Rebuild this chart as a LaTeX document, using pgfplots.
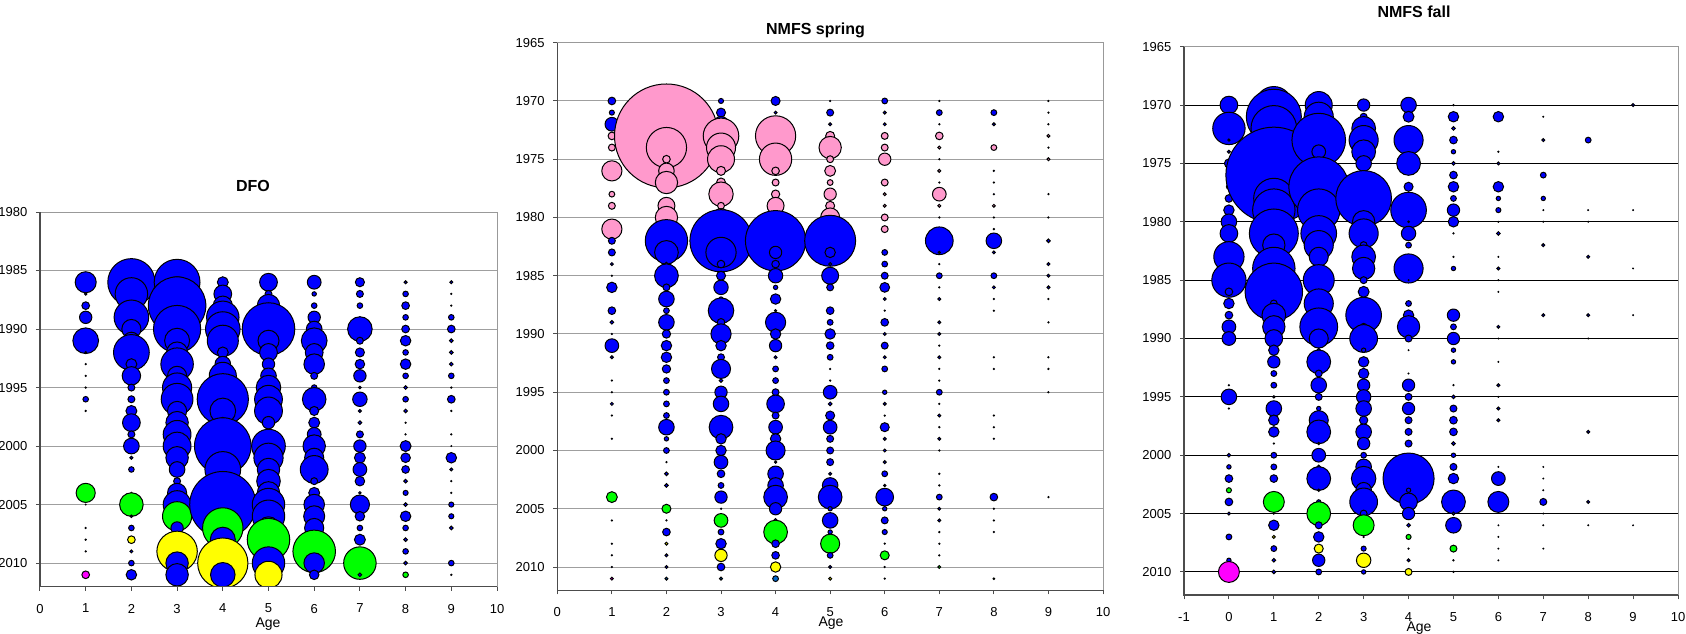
\documentclass[border=0pt]{standalone}
\usepackage{fontspec}
\setmainfont{Liberation Sans}
\usepackage{pgfplots}
\usepackage{pgfplotstable}
\pgfplotsset{compat=1.18}

\pgfplotsset{colormap={bubc}{rgb255=(0,0,255) rgb255=(255,153,204) rgb255=(0,255,0) rgb255=(255,255,0) rgb255=(255,0,255) rgb255=(0,102,204)}}

\pgfplotsset{
 panel/.style={
  scale only axis, anchor=north west,
  colormap name=bubc, point meta min=0, point meta max=5,
  clip marker paths=true,
  tick align=outside, major tick length=2pt, tick pos=left,
  ymajorgrids, grid style={line width=0.5pt, draw=gray!75},
  axis line style={draw=none},
  tick style={draw=black!70, line width=0.5pt},
  ticklabel style={font=\fontsize{6.5}{7.5}\selectfont, text=black},
  xticklabel style={yshift=-3.2pt},
  yticklabel style={xshift=-0.8pt},
  after end axis/.append code={
    \draw[line width=0.5pt, draw=gray!80] (rel axis cs:0,1) -- (rel axis cs:1,1) -- (rel axis cs:1,0);
    \draw[line width=0.8pt, draw=black!70] (rel axis cs:0,1) -- (rel axis cs:0,0) -- (rel axis cs:1,0);
  },
 },
 bub/.style={scatter, only marks, mark=*, line width=0.5pt, point meta=explicit,
  scatter/use mapped color={draw=black, fill=mapped color},
  visualization depends on={max(\thisrow{r}*#1-0.25,0.2) \as \bubsize},
  visualization depends on={\thisrow{o} \as \bubop},
  scatter/@pre marker code/.append style={/tikz/mark size=\bubsize, /tikz/draw opacity=\bubop},
 },
}

% c: 0 blue, 1 pink, 2 green, 3 yellow, 4 magenta, 5 steel blue; r in years; o = outline
\pgfplotstableread{
x y r c o
1 1986 0.94 0 1
1 1987 0.15 0 1
1 1988 0.37 0 1
1 1989 0.57 0 1
1 1991 1.14 0 1
1 1992 0.11 0 1
1 1993 0.09 0 1
1 1994 0.09 0 1
1 1995 0.09 0 1
1 1996 0.28 0 1
1 1997 0.09 0 1
1 2004 0.86 2 1
1 2005 0.07 0 1
1 2007 0.09 0 1
1 2008 0.09 0 1
1 2009 0.09 0 1
1 2011 0.37 4 1
2 1986 2.06 0 1
2 1987 1.43 0 1
2 1988 0.5 0 1
2 1989 1.52 0 1
2 1990 0.86 0 1
2 1991 0.77 0 1
2 1992 1.57 0 1
2 1993 0.51 0 1
2 1994 0.83 0 1
2 1995 0.34 0 1
2 1996 0.34 0 1
2 1997 0.51 0 1
2 1998 0.8 0 1
2 1999 0.34 0 1
2 2000 0.71 0 1
2 2001 0.17 0 1
2 2002 0.28 0 1
2 2004 0.09 0 1
2 2005 1.05 2 1
2 2006 0.15 0 1
2 2007 0.28 0 1
2 2008 0.37 3 1
2 2009 0.17 0 1
2 2010 0.28 0 1
2 2011 0.49 0 1
3 1986 2.0 0 1
3 1987 1.5 0 1
3 1988 2.5 0 1
3 1989 1.0 0 1
3 1990 2.06 0 1
3 1991 1.11 0 1
3 1992 0.94 0 1
3 1993 1.43 0 1
3 1994 0.86 0 1
3 1995 1.29 0 1
3 1996 1.4 0 1
3 1997 0.86 0 1
3 1998 1.0 0 1
3 1999 1.23 0 1
3 2000 1.23 0 1
3 2001 1.0 0 1
3 2002 0.71 0 1
3 2003 0.34 0 1
3 2004 0.86 0 1
3 2005 1.23 0 1
3 2006 1.29 2 1
3 2007 0.57 0 1
3 2008 0.6 0 1
3 2009 1.77 3 1
3 2010 1.0 0 1
3 2011 1.0 0 1
4 1986 0.51 0 1
4 1987 0.8 0 1
4 1988 0.86 0 1
4 1989 1.43 0 1
4 1990 1.52 0 1
4 1991 1.37 0 1
4 1992 0.51 0 1
4 1993 0.71 0 1
4 1994 1.2 0 1
4 1995 1.0 0 1
4 1996 2.23 0 1
4 1997 1.14 0 1
4 1998 0.5 0 1
4 1999 1.0 0 1
4 2000 2.46 0 1
4 2001 0.5 0 1
4 2002 1.57 0 1
4 2003 0.8 0 1
4 2004 1.2 0 1
4 2005 2.87 0 1
4 2006 0.7 0 1
4 2007 1.77 2 1
4 2008 1.11 0 1
4 2009 0.9 0 1
4 2010 2.19 3 1
4 2011 1.09 0 1
5 1986 0.8 0 1
5 1987 0.34 0 1
5 1988 1.0 0 1
5 1989 0.9 0 1
5 1990 2.29 0 1
5 1991 0.94 0 1
5 1992 0.8 0 1
5 1993 0.57 0 1
5 1994 0.71 0 1
5 1995 1.09 0 1
5 1996 1.23 0 1
5 1997 1.23 0 1
5 1998 0.57 0 1
5 1999 0.45 0 1
5 2000 1.48 0 1
5 2001 1.29 0 1
5 2002 1.0 0 1
5 2003 1.05 0 1
5 2004 1.0 0 1
5 2005 1.43 0 1
5 2006 1.43 0 1
5 2007 1.0 0 1
5 2008 1.86 2 1
5 2009 0.4 0 1
5 2010 1.43 0 1
5 2011 1.2 3 1
6 1986 0.63 0 1
6 1987 0.23 0 1
6 1988 0.28 0 1
6 1989 0.57 0 1
6 1990 0.71 0 1
6 1991 1.14 0 1
6 1992 0.8 0 1
6 1993 0.92 0 1
6 1994 0.34 0 1
6 1995 0.28 0 1
6 1996 1.05 0 1
6 1997 0.43 0 1
6 1998 0.51 0 1
6 1999 0.63 0 1
6 2000 1.0 0 1
6 2001 0.86 0 1
6 2002 1.23 0 1
6 2003 0.34 0 1
6 2004 0.51 0 1
6 2005 0.92 0 1
6 2006 0.94 0 1
6 2007 0.86 0 1
6 2008 0.8 0 1
6 2009 1.86 2 1
6 2010 0.92 0 1
6 2011 0.45 0 1
7 1986 0.43 0 1
7 1987 0.34 0 1
7 1988 0.28 0 1
7 1989 0.09 0 1
7 1990 1.09 0 1
7 1991 0.34 0 1
7 1992 0.43 0 1
7 1993 0.45 0 1
7 1994 0.57 0 1
7 1995 0.15 0 1
7 1996 0.66 0 1
7 1997 0.17 0 1
7 1998 0.2 0 1
7 1999 0.34 0 1
7 2000 0.57 0 1
7 2001 0.51 0 1
7 2002 0.63 0 1
7 2003 0.45 0 1
7 2004 0.15 0 1
7 2005 0.86 0 1
7 2006 0.45 0 1
7 2007 0.28 0 1
7 2008 0.51 0 1
7 2010 1.43 2 1
7 2011 0.2 0 1
8 1986 0.17 0 1
8 1987 0.28 0 1
8 1988 0.37 0 1
8 1989 0.28 0 1
8 1990 0.37 0 1
8 1991 0.49 0 1
8 1992 0.28 0 1
8 1993 0.49 0 1
8 1994 0.28 0 1
8 1995 0.2 0 1
8 1996 0.28 0 1
8 1997 0.2 0 1
8 1998 0.09 0 1
8 1999 0.09 0 1
8 2000 0.51 0 1
8 2001 0.45 0 1
8 2002 0.37 0 1
8 2003 0.2 0 1
8 2004 0.26 0 1
8 2005 0.2 0 1
8 2006 0.49 0 1
8 2007 0.28 0 1
8 2008 0.2 0 1
8 2009 0.28 0 1
8 2010 0.2 0 1
8 2011 0.28 2 1
9 1986 0.17 0 1
9 1987 0.09 0 1
9 1988 0.09 0 1
9 1989 0.28 0 1
9 1990 0.37 0 1
9 1991 0.2 0 1
9 1992 0.2 0 1
9 1993 0.2 0 1
9 1994 0.28 0 1
9 1995 0.09 0 1
9 1996 0.37 0 1
9 1997 0.09 0 1
9 1999 0.09 0 1
9 2000 0.07 0 1
9 2001 0.49 0 1
9 2002 0.17 0 1
9 2003 0.09 0 1
9 2004 0.09 0 1
9 2005 0.26 0 1
9 2006 0.26 0 1
9 2007 0.2 0 1
9 2010 0.28 0 1
9 2011 0.09 0 1
}\dfo

\pgfplotstableread{
x y r c o
1 1970 0.37 0 1
1 1971 0.26 0 1
1 1972 0.63 0 1
1 1973 0.37 1 1
1 1974 0.34 1 1
1 1976 0.91 1 1
1 1978 0.29 1 1
1 1979 0.34 1 1
1 1981 0.91 1 1
1 1982 0.34 0 1
1 1983 0.34 0 1
1 1984 0.17 0 1
1 1985 0.09 0 1
1 1986 0.49 0 1
1 1988 0.37 0 1
1 1989 0.2 0 1
1 1990 0.09 0 1
1 1991 0.63 0 1
1 1992 0.17 0 1
1 1994 0.09 0 1
1 1995 0.09 0 1
1 1996 0.17 0 1
1 1997 0.09 0 1
1 1999 0.09 0 1
1 2004 0.51 2 0
1 2006 0.09 0 1
1 2008 0.09 0 1
1 2009 0.09 0 1
1 2010 0.09 0 1
1 2011 0.17 4 1
2 1973 4.5 1 1
2 1974 1.77 1 1
2 1975 0.37 1 1
2 1976 0.71 1 1
2 1977 1.0 1 1
2 1979 0.77 1 1
2 1980 1.0 1 1
2 1982 1.86 0 1
2 1983 1.06 0 1
2 1984 0.2 0 1
2 1985 1.06 0 1
2 1986 0.34 0 1
2 1987 0.71 0 1
2 1988 0.29 0 1
2 1989 0.71 0 1
2 1990 0.4 0 1
2 1991 0.49 0 1
2 1992 0.49 0 1
2 1993 0.4 0 1
2 1994 0.29 0 1
2 1995 0.29 0 1
2 1996 0.29 0 1
2 1997 0.29 0 1
2 1998 0.71 0 1
2 1999 0.23 0 1
2 2000 0.29 0 1
2 2001 0.09 0 1
2 2002 0.2 0 1
2 2003 0.2 0 1
2 2005 0.43 2 0
2 2006 0.09 0 1
2 2007 0.37 0 1
2 2008 0.17 3 1
2 2009 0.17 0 1
2 2010 0.17 0 1
2 2011 0.17 5 1
3 1970 0.26 0 1
3 1971 0.43 0 1
3 1972 0.71 0 1
3 1973 1.57 1 1
3 1974 1.29 1 1
3 1975 1.2 1 1
3 1976 0.43 1 1
3 1977 0.43 1 1
3 1978 1.09 1 1
3 1979 0.34 1 1
3 1980 0.8 1 1
3 1982 2.71 0 1
3 1983 1.34 0 1
3 1984 0.37 0 1
3 1985 0.43 0 1
3 1986 0.66 0 1
3 1987 0.23 0 1
3 1988 1.14 0 1
3 1989 0.37 0 1
3 1990 0.91 0 1
3 1991 0.49 0 1
3 1992 0.34 0 1
3 1993 0.86 0 1
3 1994 0.2 0 1
3 1995 0.57 0 1
3 1996 0.71 0 1
3 1998 1.06 0 1
3 1999 0.49 0 1
3 2000 0.49 0 1
3 2001 0.63 0 1
3 2002 0.37 0 1
3 2003 0.29 0 1
3 2004 0.57 0 1
3 2005 0.09 0 1
3 2006 0.63 2 0
3 2007 0.29 0 1
3 2008 0.49 0 1
3 2009 0.57 3 1
3 2010 0.37 0 1
3 2011 0.17 5 1
4 1970 0.43 0 1
4 1971 0.17 0 1
4 1973 1.77 1 1
4 1975 1.43 1 1
4 1976 0.37 1 1
4 1977 0.34 1 1
4 1978 0.4 1 1
4 1979 0.77 1 1
4 1982 2.63 0 1
4 1983 0.57 0 1
4 1984 0.37 0 1
4 1985 0.66 0 1
4 1986 0.23 0 1
4 1987 0.49 0 1
4 1988 0.14 0 1
4 1989 0.91 0 1
4 1990 0.49 0 1
4 1991 0.57 0 1
4 1992 0.17 0 1
4 1993 0.29 0 1
4 1994 0.29 0 1
4 1995 0.34 0 1
4 1996 0.8 0 1
4 1997 0.34 0 1
4 1998 0.63 0 1
4 1999 0.49 0 1
4 2000 0.86 0 1
4 2001 0.14 0 1
4 2002 0.71 0 1
4 2003 0.71 0 1
4 2004 1.06 0 1
4 2005 0.57 0 1
4 2006 0.2 0 1
4 2007 1.06 2 0
4 2008 0.37 0 1
4 2009 0.37 0 1
4 2010 0.49 3 1
4 2011 0.29 5 1
5 1970 0.09 0 1
5 1971 0.34 0 1
5 1972 0.17 0 1
5 1973 0.43 1 1
5 1974 1.0 1 1
5 1975 0.34 1 1
5 1976 0.51 1 1
5 1977 0.29 1 1
5 1978 0.57 1 1
5 1979 0.43 1 1
5 1980 0.86 1 1
5 1982 2.23 0 1
5 1983 0.49 0 1
5 1984 0.17 0 1
5 1985 0.77 0 1
5 1986 0.34 0 1
5 1988 0.37 0 1
5 1989 0.29 0 1
5 1990 0.49 0 1
5 1991 0.37 0 1
5 1992 0.29 0 1
5 1993 0.09 0 1
5 1994 0.09 0 1
5 1995 0.63 0 1
5 1996 0.2 0 1
5 1997 0.43 0 1
5 1998 0.63 0 1
5 1999 0.34 0 1
5 2000 0.34 0 1
5 2001 0.34 0 1
5 2002 0.17 0 1
5 2003 0.71 0 1
5 2004 1.06 0 1
5 2005 0.23 0 1
5 2006 0.71 0 1
5 2007 0.23 0 1
5 2008 0.86 2 0
5 2009 0.29 0 1
5 2010 0.17 0 1
5 2011 0.17 3 1
6 1970 0.29 0 1
6 1971 0.17 0 1
6 1972 0.17 0 1
6 1973 0.34 1 1
6 1974 0.34 1 1
6 1975 0.57 1 1
6 1977 0.34 1 1
6 1978 0.17 1 1
6 1979 0.17 1 1
6 1980 0.34 1 1
6 1981 0.34 1 1
6 1983 0.29 0 1
6 1984 0.29 0 1
6 1985 0.34 0 1
6 1986 0.46 0 1
6 1987 0.17 0 1
6 1988 0.09 0 1
6 1989 0.37 0 1
6 1990 0.17 0 1
6 1991 0.34 0 1
6 1992 0.17 0 1
6 1993 0.29 0 1
6 1995 0.23 0 1
6 1996 0.17 0 1
6 1997 0.09 0 1
6 1998 0.43 0 1
6 1999 0.17 0 1
6 2000 0.17 0 1
6 2001 0.17 0 1
6 2002 0.29 0 1
6 2003 0.14 0 1
6 2004 0.8 0 1
6 2005 0.23 0 1
6 2006 0.34 0 1
6 2007 0.26 0 1
6 2008 0.09 0 1
6 2009 0.43 2 0
6 2010 0.09 0 1
6 2011 0.09 0 1
7 1970 0.09 0 1
7 1971 0.29 0 1
7 1972 0.09 0 1
7 1973 0.37 1 1
7 1974 0.17 1 1
7 1975 0.09 0 1
7 1976 0.17 1 1
7 1977 0.09 0 1
7 1978 0.63 1 1
7 1979 0.17 1 1
7 1980 0.09 0 1
7 1981 0.09 0 1
7 1982 1.23 0 1
7 1983 0.14 0 1
7 1984 0.09 0 1
7 1985 0.29 0 1
7 1986 0.09 0 1
7 1987 0.17 0 1
7 1989 0.17 0 1
7 1990 0.17 0 1
7 1991 0.09 0 1
7 1992 0.17 0 1
7 1993 0.09 0 1
7 1994 0.09 0 1
7 1995 0.29 0 1
7 1996 0.09 0 1
7 1997 0.17 0 1
7 1998 0.09 0 1
7 1999 0.17 0 1
7 2000 0.09 0 1
7 2002 0.09 0 1
7 2003 0.09 0 1
7 2004 0.29 0 1
7 2005 0.17 0 1
7 2006 0.17 0 1
7 2007 0.09 0 1
7 2008 0.09 0 1
7 2009 0.09 0 1
7 2010 0.17 2 0
8 1971 0.29 0 1
8 1972 0.17 0 1
8 1974 0.29 1 1
8 1976 0.09 0 1
8 1977 0.09 0 1
8 1978 0.09 0 1
8 1979 0.17 1 1
8 1980 0.09 0 1
8 1981 0.09 0 1
8 1982 0.71 0 1
8 1983 0.17 0 1
8 1985 0.29 0 1
8 1986 0.17 0 1
8 1987 0.09 0 1
8 1988 0.09 0 1
8 1992 0.09 0 1
8 1993 0.09 0 1
8 1997 0.09 0 1
8 1998 0.09 0 1
8 1999 0.09 0 1
8 2004 0.37 0 1
8 2005 0.09 0 1
8 2006 0.09 0 1
8 2007 0.09 0 1
8 2011 0.11 2 0
9 1970 0.09 0 1
9 1971 0.09 0 1
9 1972 0.09 0 1
9 1973 0.17 1 1
9 1974 0.09 0 1
9 1975 0.17 1 1
9 1978 0.09 0 1
9 1980 0.09 0 1
9 1982 0.2 0 1
9 1984 0.17 0 1
9 1985 0.17 0 1
9 1986 0.17 0 1
9 1987 0.09 0 1
9 1989 0.09 0 1
9 1992 0.09 0 1
9 1993 0.09 0 1
9 1995 0.09 0 1
9 2004 0.09 0 1
}\spring

\pgfplotstableread{
x y r c o
0 1970 0.8 0 1
0 1972 1.43 0 1
0 1973 0.14 0 1
0 1974 0.17 0 1
0 1975 0.43 0 1
0 1977 0.26 0 1
0 1978 0.37 0 1
0 1979 0.49 0 1
0 1980 0.71 0 1
0 1981 0.8 0 1
0 1983 1.34 0 1
0 1985 1.51 0 1
0 1986 0.37 0 1
0 1987 0.49 0 1
0 1988 0.37 0 1
0 1989 0.63 0 1
0 1990 0.63 0 1
0 1994 0.09 0 1
0 1995 0.71 0 1
0 1996 0.09 0 1
0 2000 0.2 0 1
0 2001 0.23 0 1
0 2002 0.37 0 1
0 2003 0.26 2 1
0 2004 0.37 0 1
0 2005 0.17 0 1
0 2007 0.29 0 1
0 2009 0.23 0 1
0 2010 0.94 4 0
1 1970 1.63 0 1
1 1971 2.4 0 1
1 1972 2.0 0 1
1 1973 1.0 0 1
1 1974 1.5 0 1
1 1975 2.0 0 1
1 1976 4.15 0 1
1 1977 0.6 0 1
1 1978 1.77 0 1
1 1979 1.86 0 1
1 1980 1.0 0 1
1 1981 2.14 0 1
1 1982 1.0 0 1
1 1983 0.8 0 1
1 1984 1.86 0 1
1 1985 1.4 0 1
1 1986 2.5 0 1
1 1987 0.34 0 1
1 1988 1.06 0 1
1 1989 1.0 0 1
1 1990 0.8 0 1
1 1991 0.49 0 1
1 1992 0.57 0 1
1 1993 0.29 0 1
1 1994 0.29 0 1
1 1995 0.14 0 1
1 1996 0.71 0 1
1 1997 0.49 0 1
1 1998 0.49 0 1
1 1999 0.09 0 1
1 2000 0.29 0 1
1 2001 0.29 0 1
1 2002 0.37 0 1
1 2004 0.94 2 1
1 2005 0.09 0 1
1 2006 0.49 0 1
1 2007 0.17 3 1
1 2008 0.29 0 1
1 2009 0.2 0 1
1 2010 0.2 0 1
2 1970 1.2 0 1
2 1971 1.29 0 1
2 1972 1.1 0 1
2 1973 2.34 0 1
2 1974 0.63 0 1
2 1975 0.5 0 1
2 1976 1.2 0 1
2 1977 2.6 0 1
2 1978 0.8 0 1
2 1979 1.86 0 1
2 1980 0.5 0 1
2 1981 1.57 0 1
2 1982 1.29 0 1
2 1983 0.86 0 1
2 1984 0.35 0 1
2 1985 1.37 0 1
2 1986 0.25 0 1
2 1987 1.29 0 1
2 1988 0.6 0 1
2 1989 1.66 0 1
2 1990 0.86 0 1
2 1991 0.2 0 1
2 1992 1.06 0 1
2 1993 0.34 0 1
2 1994 0.71 0 1
2 1995 0.34 0 1
2 1996 0.23 0 1
2 1997 0.86 0 1
2 1998 1.06 0 1
2 1999 0.14 0 1
2 2000 0.63 0 1
2 2001 0.2 0 1
2 2002 1.06 0 1
2 2003 0.14 0 1
2 2004 0.23 0 1
2 2005 1.06 2 1
2 2006 0.34 0 1
2 2007 0.49 0 1
2 2008 0.43 3 1
2 2009 0.57 0 1
2 2010 0.29 0 1
3 1970 0.57 0 1
3 1971 0.34 0 1
3 1972 1.06 0 1
3 1973 1.29 0 1
3 1974 1.06 0 1
3 1975 0.71 0 1
3 1976 0.4 0 1
3 1977 1.0 0 1
3 1978 2.43 0 1
3 1980 1.0 0 1
3 1981 1.29 0 1
3 1982 0.34 0 1
3 1983 1.06 0 1
3 1984 1.0 0 1
3 1985 0.34 0 1
3 1986 0.51 0 1
3 1988 1.57 0 1
3 1989 0.34 0 1
3 1990 1.23 0 1
3 1991 0.23 0 1
3 1992 0.49 0 1
3 1993 0.49 0 1
3 1994 0.57 0 1
3 1995 0.66 0 1
3 1996 0.71 0 1
3 1997 0.4 0 1
3 1998 0.71 0 1
3 1999 0.57 0 1
3 2000 0.29 0 1
3 2001 0.71 0 1
3 2002 1.09 0 1
3 2003 0.71 0 1
3 2004 1.23 0 1
3 2005 0.34 0 1
3 2006 0.94 2 1
3 2007 0.09 0 1
3 2008 0.26 0 1
3 2009 0.66 3 1
3 2010 0.23 0 1
4 1970 0.71 0 1
4 1971 0.51 0 1
4 1973 1.29 0 1
4 1975 1.06 0 1
4 1977 0.43 0 1
4 1979 1.57 0 1
4 1980 0.11 0 1
4 1981 0.66 0 1
4 1982 0.29 0 1
4 1984 1.29 0 1
4 1985 0.06 0 1
4 1987 0.29 0 1
4 1988 0.49 0 1
4 1989 1.0 0 1
4 1990 0.34 0 1
4 1991 0.06 0 1
4 1993 0.06 0 1
4 1994 0.57 0 1
4 1995 0.34 0 1
4 1996 0.57 0 1
4 1997 0.34 0 1
4 1998 0.34 0 1
4 1999 0.34 0 1
4 2000 0.09 0 1
4 2002 2.23 0 1
4 2003 0.23 0 1
4 2004 0.8 0 1
4 2005 0.57 0 1
4 2006 0.2 0 1
4 2007 0.26 2 1
4 2008 0.09 0 1
4 2009 0.17 0 1
4 2010 0.34 3 1
5 1970 0.09 0 1
5 1971 0.49 0 1
5 1972 0.2 0 1
5 1973 0.37 0 1
5 1974 0.23 0 1
5 1975 0.2 0 1
5 1976 0.37 0 1
5 1977 0.49 0 1
5 1978 0.29 0 1
5 1979 0.57 0 1
5 1980 0.49 0 1
5 1981 0.09 0 1
5 1983 0.09 0 1
5 1984 0.23 0 1
5 1988 0.57 0 1
5 1989 0.29 0 1
5 1990 0.57 0 1
5 1991 0.23 0 1
5 1992 0.23 0 1
5 1994 0.09 0 1
5 1995 0.2 0 1
5 1996 0.34 0 1
5 1997 0.37 0 1
5 1998 0.37 0 1
5 1999 0.2 0 1
5 2000 0.23 0 1
5 2001 0.34 0 1
5 2002 0.49 0 1
5 2004 1.06 0 1
5 2005 0.17 0 1
5 2006 0.71 0 1
5 2008 0.34 2 1
5 2009 0.09 0 1
5 2010 0.09 0 1
6 1971 0.49 0 1
6 1974 0.09 0 1
6 1975 0.17 0 1
6 1977 0.49 0 1
6 1978 0.23 0 1
6 1979 0.26 0 1
6 1980 0.06 0 1
6 1981 0.2 0 1
6 1983 0.06 0 1
6 1984 0.17 0 1
6 1985 0.06 0 1
6 1986 0.06 0 1
6 1989 0.17 0 1
6 1990 0.06 0 1
6 1992 0.06 0 1
6 1994 0.17 0 1
6 1995 0.06 0 1
6 1996 0.17 0 1
6 1997 0.17 0 1
6 2001 0.06 0 1
6 2002 0.63 0 1
6 2004 0.94 0 1
6 2006 0.06 0 1
6 2007 0.06 0 1
6 2008 0.06 0 1
6 2009 0.06 0 1
7 1971 0.06 0 1
7 1973 0.17 0 1
7 1976 0.29 0 1
7 1978 0.23 0 1
7 1979 0.06 0 1
7 1980 0.06 0 1
7 1982 0.17 0 1
7 1988 0.17 0 1
7 2001 0.06 0 1
7 2002 0.06 0 1
7 2003 0.06 0 1
7 2004 0.34 0 1
7 2005 0.06 0 1
7 2006 0.06 0 1
7 2008 0.06 0 1
8 1973 0.29 0 1
8 1979 0.06 0 1
8 1980 0.06 0 1
8 1983 0.17 0 1
8 1988 0.17 0 1
8 1990 0.06 0 1
8 1998 0.17 0 1
8 2004 0.17 0 1
8 2006 0.06 0 1
9 1970 0.17 0 1
9 1979 0.06 0 1
9 1984 0.06 0 1
9 1988 0.06 0 1
9 2006 0.06 0 1
}\fall

\begin{document}
\begin{tikzpicture}
\useasboundingbox (0,0) rectangle (843pt,-316.5pt);

\begin{axis}[panel, at={(20pt,-106pt)}, width=228.5pt, height=187.25pt,
  xmin=0, xmax=10, ymin=-2012, ymax=-1980,
  xtick={0,1,2,3,4,5,6,7,8,9,10}, xticklabels={0,1,2,3,4,5,6,7,8,9,10},
  ytick={-2010,-2005,-2000,-1995,-1990,-1985,-1980},
  yticklabels={2010,2005,2000,1995,1990,1985,1980}]
\addplot[bub=5.852] table[x=x, y expr=-\thisrow{y}, meta=c] {\dfo};
\end{axis}

\begin{axis}[panel, at={(278.65pt,-21.35pt)}, width=272.85pt, height=273.8pt,
  xmin=0, xmax=10, ymin=-2012, ymax=-1965,
  xtick={0,1,2,3,4,5,6,7,8,9,10}, xticklabels={0,1,2,3,4,5,6,7,8,9,10},
  ytick={-2010,-2005,-2000,-1995,-1990,-1985,-1980,-1975,-1970,-1965},
  yticklabels={2010,2005,2000,1995,1990,1985,1980,1975,1970,1965}]
\addplot[bub=5.8255] table[x=x, y expr=-\thisrow{y}, meta=c] {\spring};
\end{axis}

\begin{axis}[panel, at={(592pt,-23.35pt)}, width=247pt, height=274.3pt,
  grid style={line width=0.5pt, draw=black},
  xmin=-1, xmax=10, ymin=-2012, ymax=-1965,
  xtick={-1,0,1,2,3,4,5,6,7,8,9,10}, xticklabels={-1,0,1,2,3,4,5,6,7,8,9,10},
  ytick={-2010,-2005,-2000,-1995,-1990,-1985,-1980,-1975,-1970,-1965},
  yticklabels={2010,2005,2000,1995,1990,1985,1980,1975,1970,1965}]
\addplot[bub=5.836] table[x=x, y expr=-\thisrow{y}, meta=c] {\fall};
\end{axis}

\node[font=\bfseries\fontsize{8}{9.6}\selectfont] at (126.5pt,-93pt) {DFO};
\node[font=\bfseries\fontsize{8}{9.6}\selectfont] at (407.75pt,-15pt) {NMFS spring};
\node[font=\bfseries\fontsize{8}{9.6}\selectfont] at (707pt,-6pt) {NMFS fall};
\node[font=\fontsize{7}{8.4}\selectfont, anchor=base] at (134pt,-313.5pt) {Age};
\node[font=\fontsize{7}{8.4}\selectfont, anchor=base] at (415.5pt,-313pt) {Age};
\node[font=\fontsize{7}{8.4}\selectfont, anchor=base] at (709.5pt,-315.5pt) {Age};
\end{tikzpicture}
\end{document}
